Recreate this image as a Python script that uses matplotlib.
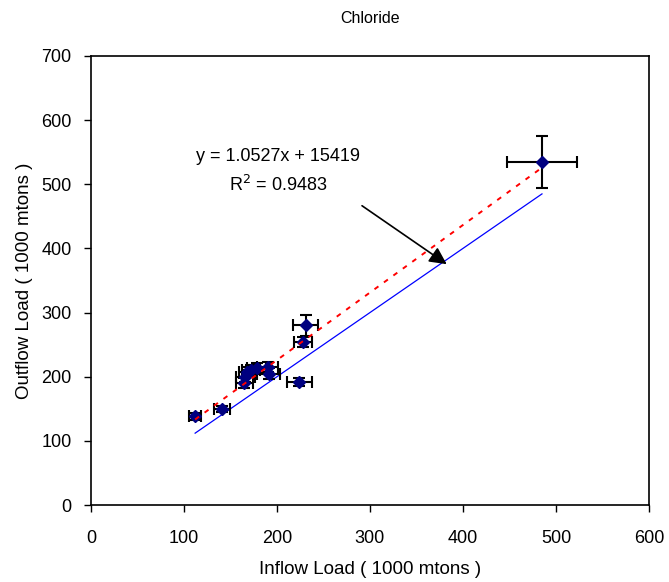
import numpy as np
import matplotlib.pyplot as plt

plt.rcParams['font.family'] = ['Liberation Sans', 'DejaVu Sans']

# loads in 1000 mtons
inflow = [112, 141, 165, 166, 168, 172, 178, 190, 191, 224, 228, 231, 485]
outflow = [138, 150, 190, 200, 207, 210, 214, 215, 205, 192, 254, 280, 535]
inflow_err = [6.5, 9, 9, 10, 9, 10, 10, 11, 12, 13.5, 10, 13.5, 37.5]
outflow_err = [5, 5, 8, 8, 8, 8, 8, 8, 8, 6, 8, 16, 41]

slope = 1.0527
intercept = 15.419
eq_text = "y = 1.0527x + 15419\nR$^2$ = 0.9483"

fig = plt.figure(figsize=(6.69, 5.82), dpi=100)
ax = fig.add_axes([0.136, 0.1323, 0.834, 0.7715])

# 1:1 line
lo, hi = min(inflow), max(inflow)
ax.plot([lo, hi], [lo, hi], color='#0000ff', lw=0.9, zorder=2)

# trendline
xs = np.array([lo, hi])
ax.plot(xs, slope * xs + intercept, color='red', lw=1.4, dashes=(2.5, 3.5), zorder=4)

ax.errorbar(inflow, outflow, xerr=inflow_err, yerr=outflow_err, fmt='D',
            color='#000080', ms=6.5, ecolor='black', elinewidth=1.5,
            capsize=4.5, capthick=1.5, zorder=3)

ax.annotate('', xy=(385, 373), xytext=(289, 469),
            arrowprops=dict(arrowstyle='-|>', color='black', lw=1.2,
                            mutation_scale=26))
ax.text(201, 520, eq_text, ha='center', va='center', fontsize=13,
        linespacing=1.6)

ax.set_xlim(0, 600)
ax.set_ylim(0, 700)
ax.set_xticks(range(0, 601, 100))
ax.set_yticks(range(0, 701, 100))
ax.tick_params(direction='out', length=5, labelsize=13, width=1)
ax.tick_params(axis='x', pad=13)
ax.tick_params(axis='y', pad=9)
for s in ax.spines.values():
    s.set_linewidth(1.2)

ax.set_xlabel('Inflow Load ( 1000 mtons )', fontsize=13.5, labelpad=10)
ax.set_ylabel('Outflow Load ( 1000 mtons )', fontsize=13.5, labelpad=6)
fig.text(0.553, 0.969, 'Chloride', ha='center', va='center', fontsize=11.5)

fig.savefig('out.png', dpi=100)
